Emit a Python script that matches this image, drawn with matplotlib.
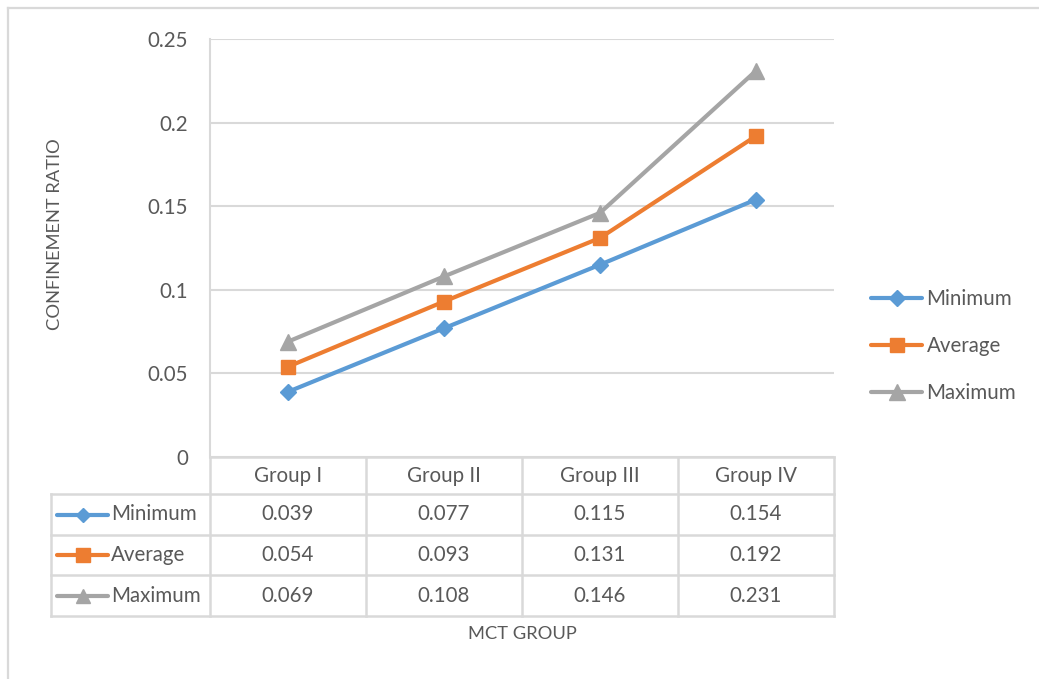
import matplotlib.pyplot as plt
from matplotlib.lines import Line2D
from matplotlib.transforms import blended_transform_factory

plt.rcParams['font.family'] = ['Lato', 'DejaVu Sans']

groups = ['Group I', 'Group II', 'Group III', 'Group IV']
series_names = ['Minimum', 'Average', 'Maximum']
minimum = [0.039, 0.077, 0.115, 0.154]
average = [0.054, 0.093, 0.131, 0.192]
maximum = [0.069, 0.108, 0.146, 0.231]
yticks = [0, 0.05, 0.1, 0.15, 0.2, 0.25]

series = [minimum, average, maximum]
colors = ['#5B9BD5', '#ED7D31', '#A5A5A5']
markers = ['D', 's', '^']
msizes = [8.5, 10.5, 11]
txt = '#595959'
grid = '#D9D9D9'
fs = 14.8

W, H = 1039, 679
fig = plt.figure(figsize=(W / 100, H / 100), dpi=100)

def fx(px):
    return px / W

def fy(py):
    return 1 - py / H

# outer chart frame (only top and left edges visible)
fig.add_artist(Line2D([fx(8), 1], [fy(8), fy(8)], color=grid, lw=1.6))
fig.add_artist(Line2D([fx(8), fx(8)], [fy(8), 0], color=grid, lw=1.6))

ax = fig.add_axes([fx(210), fy(457), fx(834) - fx(210), fy(39) - fy(457)])
x = list(range(len(groups)))
for vals, c, m, ms, name in zip(series, colors, markers, msizes, series_names):
    ax.plot(x, vals, color=c, lw=3, marker=m, ms=ms, label=name,
            solid_capstyle='round', zorder=3)

ax.set_xlim(-0.5, len(groups) - 0.5)
ax.set_ylim(0, 0.25)
ax.set_yticks(yticks)
ax.set_yticklabels(['0' if v == 0 else f'{v:g}' for v in yticks])
ax.tick_params(axis='y', length=0, pad=16, labelsize=fs, labelcolor=txt)
ax.set_xticks([])
ax.grid(axis='y', color=grid, lw=1.5)
ax.set_axisbelow(True)
for s in ['top', 'right', 'bottom']:
    ax.spines[s].set_visible(False)
ax.spines['left'].set_color(grid)
ax.spines['left'].set_linewidth(1.5)

fig.text(fx(55), fy(234), 'CONFINEMENT RATIO', rotation=90, ha='center',
         va='center', fontsize=13.2, color=txt)
fig.text(fx(522), fy(634), 'MCT GROUP', ha='center', va='center',
         fontsize=13.2, color=txt)

# legend on the right
leg = ax.legend(loc='center left', bbox_to_anchor=(fx(871), fy(346)),
                bbox_transform=fig.transFigure, frameon=False, fontsize=fs,
                labelcolor=txt, handlelength=2.5, handletextpad=0.2,
                labelspacing=1.3, borderpad=0, borderaxespad=0)

# data table under the plot
tr = blended_transform_factory(ax.transData, fig.transFigure)
row_edges = [457, 494, 535, 575, 616]
lw_t = 1.8
left_px = 51
for i, yb in enumerate(row_edges):
    if i == 0:
        ax.plot([-0.5, len(groups) - 0.5], [fy(yb)] * 2, transform=tr,
                color=grid, lw=lw_t, clip_on=False)
    else:
        fig.add_artist(Line2D([fx(left_px), fx(834)], [fy(yb)] * 2,
                              color=grid, lw=lw_t))
for j in range(len(groups) + 1):
    ax.plot([j - 0.5, j - 0.5], [fy(457), fy(616)], transform=tr,
            color=grid, lw=lw_t, clip_on=False)
fig.add_artist(Line2D([fx(left_px)] * 2, [fy(494), fy(616)], color=grid, lw=lw_t))

for j, g in enumerate(groups):
    ax.text(j, fy((row_edges[0] + row_edges[1]) / 2), g, transform=tr,
            ha='center', va='center', fontsize=fs, color=txt)

for i, (vals, c, m, ms, name) in enumerate(zip(series, colors, markers, msizes, series_names)):
    yc = fy((row_edges[i + 1] + row_edges[i + 2]) / 2)
    fig.add_artist(Line2D([fx(57), fx(108)], [yc, yc], color=c, lw=3,
                          solid_capstyle='round'))
    fig.add_artist(Line2D([fx(82.5)], [yc], color=c, marker=m, ms=ms - 1, lw=0))
    fig.text(fx(111), yc, name, ha='left', va='center', fontsize=fs, color=txt)
    for j, v in enumerate(vals):
        ax.text(j, yc, f'{v:.3f}', transform=tr, ha='center', va='center',
                fontsize=fs, color=txt)

fig.savefig('out.png', dpi=100)
